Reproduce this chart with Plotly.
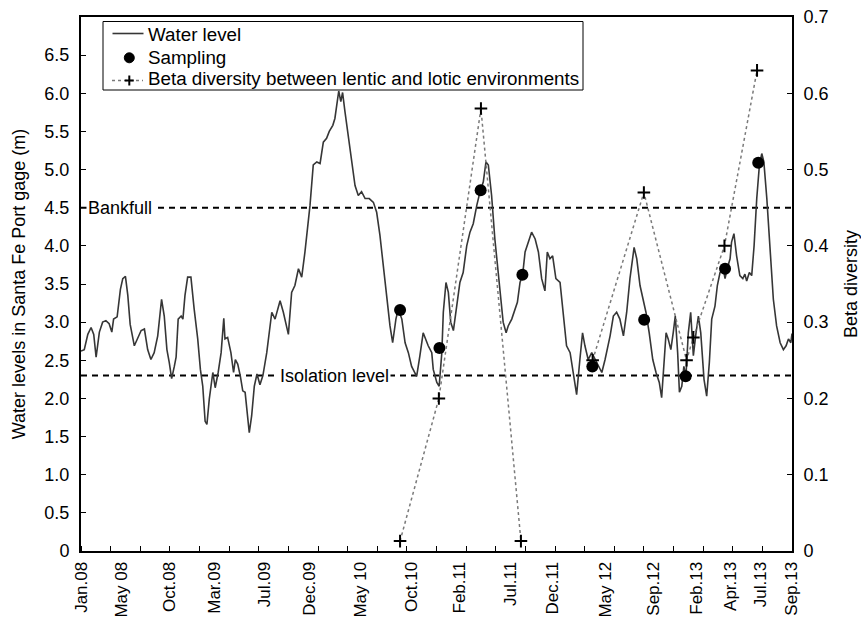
import plotly.graph_objects as go

# Water level record (x = record index along the time axis, y = metres at the gage)
record = [0.0, 1.1, 2.3, 3.4, 4.3, 5.1, 6.2, 7.3, 8.4, 9.5, 10.4, 11.0, 12.2, 13.3, 14.1, 15.0, 15.8, 16.6,
          18.0, 19.1, 20.3, 21.4, 22.5, 23.6, 24.7, 25.9, 27.2, 28.1, 29.0, 29.8, 30.6, 31.5, 32.1, 32.8,
          33.8, 34.4, 35.1, 36.0, 37.1, 38.2, 39.4, 40.3, 41.1, 41.9, 42.5, 43.3, 44.5, 45.3, 46.3, 47.3,
          48.2, 48.6, 49.5, 50.6, 51.5, 52.1, 52.9, 53.8, 54.6, 55.4, 56.3, 56.8, 57.6, 58.5, 59.4, 60.4,
          61.4, 62.7, 64.4, 65.5, 67.2, 68.3, 70.0, 71.1, 72.2, 73.4, 74.5, 75.6, 77.3, 78.4, 79.6, 80.7,
          81.8, 82.9, 83.8, 85.0, 85.7, 86.5, 87.0, 87.7, 88.3, 89.1, 90.2, 91.4, 92.5, 93.6, 94.7, 95.9,
          97.3, 98.7, 99.8, 100.9, 102.0, 103.2, 104.3, 105.2, 106.3, 107.1, 108.3, 109.4, 110.5, 111.6,
          112.4, 113.3, 114.4, 115.5, 117.2, 118.4, 118.9, 120.1, 120.9, 121.8, 122.3, 123.2, 124.0, 124.8,
          125.7, 126.8, 127.9, 129.0, 130.2, 131.3, 132.4, 133.6, 134.7, 135.8, 136.7, 137.5, 138.6, 139.7,
          140.9, 141.7, 142.5, 143.5, 144.2, 145.4, 146.5, 147.3, 148.2, 149.1, 149.9, 151.0, 152.1, 153.3,
          154.4, 155.5, 156.6, 157.4, 158.3, 159.2, 160.3, 161.7, 162.8, 163.9, 165.1, 166.2, 167.3, 168.4,
          169.3, 170.1, 171.2, 172.4, 173.5, 174.6, 175.8, 176.9, 178.6, 179.7, 180.8, 181.9, 183.1, 184.2,
          185.3, 186.7, 187.6, 188.7, 189.8, 190.7, 191.8, 193.0, 194.1, 195.2, 196.0, 196.8, 197.5, 198.2,
          199.1, 199.9, 200.6, 201.4, 202.0, 202.8, 203.5, 204.2, 205.0, 205.8, 206.7, 207.6, 208.4, 209.2,
          210.3, 211.2, 212.1, 212.9, 214.0, 214.8, 215.7, 216.8, 217.4, 218.1, 219.1, 219.6, 220.4, 221.3,
          222.4, 223.4, 224.1, 224.7, 225.6, 226.4, 227.2, 228.1, 229.0, 229.8, 230.5, 231.5, 232.6, 233.7,
          234.8, 236.0, 237.1, 238.0, 238.8, 239.6, 240.0]

water_level = [2.62, 2.64, 2.84, 2.93, 2.84, 2.54, 2.87, 3.00, 3.02, 2.98, 2.87, 3.04, 3.07, 3.43, 3.57, 3.60, 3.35, 2.97,
               2.69, 2.78, 2.89, 2.91, 2.64, 2.51, 2.60, 2.82, 3.30, 3.08, 2.64, 2.47, 2.26, 2.42, 2.54, 3.04,
               3.08, 3.04, 3.35, 3.59, 3.59, 3.17, 2.78, 2.38, 2.16, 1.70, 1.66, 1.99, 2.34, 2.14, 2.34, 2.60,
               3.05, 2.78, 2.80, 2.60, 2.34, 2.51, 2.45, 2.29, 2.10, 2.08, 1.77, 1.55, 1.77, 2.16, 2.32, 2.18,
               2.30, 2.60, 3.13, 3.04, 3.28, 3.13, 2.84, 3.39, 3.48, 3.70, 3.59, 3.92, 4.53, 5.06, 5.10, 5.08,
               5.36, 5.41, 5.50, 5.58, 5.67, 5.93, 6.03, 5.89, 6.01, 5.76, 5.45, 5.14, 4.79, 4.66, 4.71, 4.62,
               4.62, 4.57, 4.44, 4.14, 3.74, 3.35, 2.95, 2.73, 3.04, 3.17, 3.04, 2.73, 2.60, 2.42,
               2.36, 2.29, 2.56, 2.86, 2.69, 2.60, 2.38, 2.21, 2.16, 2.60, 3.13, 3.52, 3.39, 3.00,
               2.89, 3.21, 3.52, 3.65, 4.00, 4.18, 4.29, 4.53, 4.71, 4.84, 5.10, 5.06, 4.66, 4.09,
               3.65, 3.30, 3.00, 2.86, 2.95, 3.04, 3.17, 3.26, 3.52, 3.63, 3.92, 4.05, 4.18, 4.09,
               3.92, 3.57, 3.41, 3.92, 3.83, 3.87, 3.57, 3.52, 3.13, 2.69, 2.60, 2.29, 2.05, 2.51,
               2.86, 2.69, 2.51, 2.60, 2.51, 2.42, 2.34, 2.51, 2.82, 3.08, 3.13, 3.04, 2.82, 3.13,
               3.57, 3.98, 3.83, 3.48, 3.30, 3.13, 2.86, 2.51, 2.34, 2.21, 2.01, 2.51, 2.86, 2.78,
               2.64, 2.86, 3.08, 2.60, 2.08, 2.16, 2.42, 2.29, 2.86, 3.13, 2.56, 2.86, 3.08, 2.86,
               2.25, 2.03, 2.47, 3.04, 3.21, 3.48, 3.65, 3.70, 3.57, 3.70, 3.83, 4.05, 4.16, 3.87,
               3.61, 3.57, 3.63, 3.54, 3.65, 3.61, 4.00, 4.62, 5.06, 5.21, 5.10, 4.62, 3.96, 3.30,
               2.95, 2.73, 2.64, 2.69, 2.78, 2.73, 2.85]

# Sampling campaigns on the water level record
sample_record = [107.7, 121.0, 134.9, 149.0, 172.6, 190.1, 204.1, 217.4, 228.6]
sample_level = [3.16, 2.66, 4.73, 3.62, 2.42, 3.03, 2.29, 3.70, 5.09]

# Beta diversity between lentic and lotic environments (None = no comparison)
beta_record = [107.7, 120.8, 135.0, 148.5, None, 172.7, 190.0, 204.4, 206.7, 217.2, 228.2]
beta_value = [0.013, 0.20, 0.58, 0.013, None, 0.25, 0.47, 0.25, 0.28, 0.40, 0.63]

# Reference levels (m)
BANKFULL = 4.5
ISOLATION = 2.3

# Date labels along the record
date_ticks = [0.3, 13.5, 29.7, 45.2, 61.8, 77.0, 94.5, 111.7, 127.9, 145.1, 159.0,
              177.2, 193.4, 207.9, 219.4, 229.2, 239.7]
date_labels = ["Jan.08", "May 08", "Oct.08", "Mar.09", "Jul.09", "Dec.09", "May 10", "Oct.10",
               "Feb.11", "Jul.11", "Dec.11", "May 12", "Sep.12", "Feb.13", "Apr.13", "Jul.13", "Sep.13"]
record_ticks = list(range(0, 241, 10))

level_ticks = [0, 0.5, 1.0, 1.5, 2.0, 2.5, 3.0, 3.5, 4.0, 4.5, 5.0, 5.5, 6.0, 6.5]
level_labels = ["0"] + [f"{v:.1f}" for v in level_ticks[1:]]
beta_ticks = [0, 0.1, 0.2, 0.3, 0.4, 0.5, 0.6, 0.7]
beta_labels = ["0"] + [f"{v:.1f}" for v in beta_ticks[1:]]

legend_names = ["Water level", "Sampling", "Beta diversity between lentic and lotic environments"]

FONT = "Liberation Sans, Arial, Helvetica, sans-serif"
FS = 18
W, H = 861, 623
ML, MR, MT, MB = 81, 69, 17, 72


def px(x):
    """Horizontal pixel offset -> paper fraction."""
    return (x - ML) / (W - ML - MR)


def py(y):
    """Vertical pixel offset from the top -> paper fraction."""
    return (H - MB - y) / (H - MT - MB)


fig = go.Figure()
fig.add_trace(go.Scatter(
    x=record, y=water_level, mode="lines", name=legend_names[0], showlegend=False,
    line=dict(color="#363636", width=1.6),
))
fig.add_trace(go.Scatter(
    x=sample_record, y=sample_level, mode="markers", name=legend_names[1], showlegend=False,
    marker=dict(color="black", size=12),
))
fig.add_trace(go.Scatter(
    x=beta_record, y=beta_value, mode="lines+markers", yaxis="y2", name=legend_names[2], showlegend=False,
    line=dict(color="#7a7a7a", width=1.5, dash="dot"),
    marker=dict(symbol="cross-thin", size=9, color="black", line=dict(color="black", width=2)),
    connectgaps=False,
))

# Reference levels as dashed lines with their labels
for level in (BANKFULL, ISOLATION):
    fig.add_shape(type="line", xref="x domain", yref="y", x0=0, x1=1, y0=level, y1=level,
                  line=dict(color="black", width=2, dash="6px,5px"), layer="below")

fig.add_annotation(x=13.0, y=BANKFULL, xref="x", yref="y", text="Bankfull", showarrow=False,
                   bgcolor="white", font=dict(family=FONT, size=FS, color="black"), borderpad=1)
fig.add_annotation(x=85.6, y=ISOLATION, xref="x", yref="y", text="Isolation level", showarrow=False,
                   bgcolor="white", font=dict(family=FONT, size=FS, color="black"), borderpad=1)

# Legend box with its key symbols
fig.add_shape(type="rect", xref="paper", yref="paper", x0=px(103), x1=px(583), y0=py(90), y1=py(21.5),
              line=dict(color="black", width=1), fillcolor="white", layer="above")
fig.add_shape(type="line", xref="paper", yref="paper", x0=px(112.5), x1=px(143.5), y0=py(33.5), y1=py(33.5),
              line=dict(color="#363636", width=1.6), layer="above")
fig.add_shape(type="circle", xref="paper", yref="paper", x0=px(124.3), x1=px(134.3), y0=py(62.8), y1=py(52.8),
              line=dict(color="black", width=1), fillcolor="black", layer="above")
fig.add_shape(type="line", xref="paper", yref="paper", x0=px(112), x1=px(143), y0=py(80.5), y1=py(80.5),
              line=dict(color="#7a7a7a", width=1.5, dash="dot"), layer="above")
fig.add_shape(type="line", xref="paper", yref="paper", x0=px(124.8), x1=px(133.8), y0=py(80.5), y1=py(80.5),
              line=dict(color="black", width=2), layer="above")
fig.add_shape(type="line", xref="paper", yref="paper", x0=px(129.3), x1=px(129.3), y0=py(85.5), y1=py(75.5),
              line=dict(color="black", width=2), layer="above")
for name, row_y in zip(legend_names, (34.5, 57.5, 79)):
    fig.add_annotation(x=px(147), y=py(row_y), xref="paper", yref="paper", text=name, showarrow=False,
                       xanchor="left", yanchor="middle", borderpad=0,
                       font=dict(family=FONT, size=18.8, color="black"))

axis_common = dict(showline=True, linecolor="black", linewidth=2, showgrid=False, zeroline=False,
                   automargin=False)

fig.update_layout(
    width=W, height=H,
    margin=dict(l=ML, r=MR, t=MT, b=MB),
    paper_bgcolor="white", plot_bgcolor="white",
    font=dict(family=FONT, size=FS, color="black"),
    showlegend=False,
    xaxis=dict(range=[0, 240], tickmode="array", tickvals=date_ticks, ticktext=date_labels,
               tickangle=-90, ticks="", mirror=True, ticklabelstandoff=2,
               tickfont=dict(family=FONT, size=17, color="black"),
               minor=dict(tickmode="array", tickvals=record_ticks, ticks="inside",
                          ticklen=5, tickwidth=1, tickcolor="black"),
               **axis_common),
    yaxis=dict(range=[0, 7], tickmode="array", tickvals=level_ticks, ticktext=level_labels,
               ticks="inside", ticklen=5, tickwidth=1, tickcolor="black", ticklabelstandoff=6,
               tickfont=dict(family=FONT, size=FS, color="black"),
               title=dict(text="Water levels in Santa Fe Port gage (m)",
                          font=dict(family=FONT, size=FS, color="black"), standoff=14),
               **axis_common),
    yaxis2=dict(range=[0, 0.7], overlaying="y", side="right", tickmode="array",
                tickvals=beta_ticks, ticktext=beta_labels,
                ticks="inside", ticklen=5, tickwidth=1, tickcolor="black", ticklabelstandoff=6,
                tickfont=dict(family=FONT, size=FS, color="black"),
                title=dict(text="Beta diversity",
                           font=dict(family=FONT, size=FS, color="black"), standoff=17),
                **axis_common),
)

fig.write_html("out.html")
